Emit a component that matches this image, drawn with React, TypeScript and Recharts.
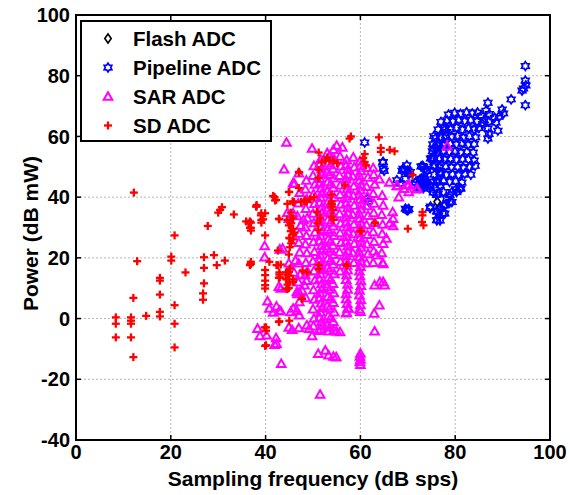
import React from 'react';
import { ScatterChart, Scatter, XAxis, YAxis, CartesianGrid } from 'recharts';

const xTicks = [0, 20, 40, 60, 80, 100];
const yTicks = [-40, -20, 0, 20, 40, 60, 80, 100];
const xDomain = [0, 100];
const yDomain = [-40, 100];
const seriesNames = ['Flash ADC', 'Pipeline ADC', 'SAR ADC', 'SD ADC'];

const flashData = [[76.2, 38.5], [73.3, 43.8], [72.9, 44.6]];

const pipelineData = [
  [94.8, 83.2], [94.8, 78.4], [94.9, 76.8], [94.4, 75.8], [94.1, 75.1], [94.8, 70.3], [91.8, 72.2], [89.9, 68.9], [90.2, 67.6], [89.2, 66.5], [89.0, 61.9],
  [86.9, 71.1], [86.5, 68.5], [87.2, 67.4], [86.1, 65.4], [87.1, 64.8], [86.9, 62.6], [87.1, 60.8], [86.9, 59.3], [85.8, 64.1], [88.3, 66.2], [88.6, 64.6], [85.5, 66.8],
  [78.6, 67.2], [79.9, 67.8], [81.1, 67.4], [82.4, 68.0], [83.6, 67.6], [84.7, 67.9],
  [77.0, 64.8], [78.3, 65.3], [79.5, 64.9], [80.8, 65.5], [82.0, 65.0], [83.3, 65.4], [84.6, 64.9],
  [76.4, 62.3], [77.7, 62.8], [79.0, 62.4], [80.3, 62.9], [81.5, 62.2], [82.8, 62.7], [84.0, 62.3], [85.0, 62.8],
  [75.5, 60.1], [76.8, 59.7], [78.0, 60.3], [79.3, 59.8], [80.5, 60.2], [81.7, 59.6], [83.0, 60.1], [84.3, 59.7],
  [75.3, 57.4], [76.5, 57.8], [77.7, 57.2], [79.0, 57.7], [80.2, 57.3], [81.5, 57.8], [82.7, 57.2], [84.0, 57.5],
  [75.2, 55.1], [76.3, 54.7], [77.5, 55.3], [78.8, 54.8], [80.0, 55.2], [81.2, 54.6], [82.5, 55.0], [83.8, 54.7],
  [75.3, 52.4], [76.6, 52.8], [77.8, 52.3], [79.0, 52.7], [80.3, 52.2], [81.5, 52.6], [82.8, 52.4], [84.0, 52.1],
  [75.5, 50.1], [76.7, 49.7], [78.0, 50.2], [79.2, 49.8], [80.5, 50.0], [81.8, 49.6], [83.0, 49.9], [84.2, 50.3],
  [75.6, 47.4], [76.9, 47.8], [78.1, 47.3], [79.4, 47.6], [80.7, 47.2], [82.0, 47.7], [83.3, 47.4],
  [75.4, 45.2], [76.3, 44.9], [77.6, 45.4], [78.8, 45.0], [80.1, 45.3], [81.4, 44.8],
  [73.1, 50.3], [73.7, 49.4], [72.6, 45.9], [73.6, 45.9], [73.3, 43.0], [74.1, 43.7], [74.6, 42.8], [75.4, 41.5], [76.1, 40.8], [74.8, 36.9], [76.1, 35.3],
  [77.4, 34.7], [77.9, 37.3], [78.9, 38.4], [79.3, 41.7], [80.2, 42.6], [81.2, 42.8], [69.8, 35.8], [69.8, 50.5], [69.3, 49.0], [70.0, 48.7],
  [60.9, 58.0], [64.7, 51.4], [65.0, 48.7], [68.8, 48.7], [70.2, 47.6], [69.5, 46.1], [67.7, 45.6], [68.4, 44.5], [71.1, 44.1], [71.6, 44.8],
  [72.5, 43.1], [72.9, 46.1], [72.8, 50.1], [74.1, 48.7], [74.8, 52.7], [75.5, 52.7], [61.7, 38.6], [70.2, 36.1], [74.7, 36.4], [76.2, 35.3], [76.2, 32.5],
  [76.2, 56.0], [77.5, 57.1], [76.8, 52.7], [76.8, 48.3], [76.1, 45.0], [76.8, 43.9], [77.5, 41.7], [77.6, 37.3], [76.5, 34.0], [76.8, 32.3],
  [64.8, 51.6], [64.8, 49.4], [70.0, 35.7], [69.0, 49.4], [70.5, 48.3], [73.3, 50.0], [74.0, 48.8], [73.3, 46.1], [74.0, 45.0], [74.7, 43.9],
  [76.4, 41.2], [78.2, 39.5], [79.3, 38.4], [76.8, 36.2], [77.8, 34.6], [76.1, 32.4], [81.0, 42.8], [80.3, 41.7], [78.9, 40.6], [61.5, 39.5], [69.5, 36.2],
  [75.9, 59.5], [76.2, 57.1], [75.4, 56.0], [75.1, 52.9], [75.7, 50.5], [77.8, 62.1], [78.2, 61.5],
];

const sarData = [
  [44.4, 58.0], [49.8, 56.0], [43.9, 49.2], [45.8, 44.6], [46.1, 44.4], [44.6, 34.9], [44.9, 32.9], [45.8, 34.7], [46.7, 33.8], [47.4, 30.7], [48.4, 30.1], [48.0, 32.5],
  [39.8, 23.9], [39.8, 20.2], [43.0, 22.8], [43.6, 23.1], [44.9, 18.2], [46.3, 19.1], [47.0, 18.2], [46.0, 15.2], [47.3, 14.5], [48.4, 14.3], [48.2, 11.0],
  [46.7, 8.1], [47.1, 8.6], [42.8, 10.5], [43.2, 9.9], [46.6, 8.8], [47.7, 9.2],
  [40.4, 5.7], [40.8, 3.3], [41.6, 2.0], [42.3, 4.0], [42.9, 2.6], [45.3, 2.2], [46.6, 2.6], [47.1, 1.1], [45.8, 3.3], [43.2, 2.4],
  [44.9, -2.9], [45.6, -3.7], [47.0, -3.1], [48.7, -2.2], [38.3, -3.3], [38.8, -5.7], [40.2, -5.5], [42.2, -6.4], [42.3, -8.3], [41.9, -8.6], [43.3, -14.9],
  [49.8, -5.7], [49.2, -3.3], [51.2, -4.0], [53.3, -4.2], [55.0, -4.2], [55.7, -4.4],
  [51.1, -11.6], [52.6, -10.5], [53.3, -12.1], [54.3, -12.5], [54.9, -12.7], [51.5, -25.0],
  [60.0, -11.5], [59.9, -12.5], [60.0, -13.5], [59.9, -14.3], [60.0, -15.2],
  [62.7, 18.4], [64.7, 18.4], [64.1, 12.1], [64.8, 12.1], [65.1, 11.0], [63.0, 11.0], [64.0, 4.4], [62.9, 1.7], [63.0, -4.2], [57.1, 2.0], [57.5, 3.3],
  [62.7, 49.6], [64.0, 45.9], [66.1, 44.8], [67.8, 43.7], [69.9, 43.9], [70.2, 41.7], [72.0, 42.8], [68.1, 40.0], [66.8, 35.1], [66.9, 32.9], [66.2, 31.4],
  [66.9, 30.5], [65.5, 26.4], [63.4, 20.9], [64.8, 18.0], [70.2, 44.1], [71.9, 42.6], [67.7, 43.7], [69.2, 42.8], [78.3, 56.8],
  [55.0, 57.0], [56.2, 56.4], [60.0, 2.3], [57.0, 1.8],
  [48.6, 45.5], [48.4, 42.6], [48.7, 39.4], [48.5, 36.2], [48.8, 33.1], [48.6, 27.3], [48.4, 24.5], [48.7, 21.6], [48.5, 18.4], [48.8, 15.6], [48.6, 12.5], [48.5, 6.8],
  [50.2, 50.3], [50.0, 47.1], [50.4, 44.2], [50.1, 41.0], [50.3, 37.8], [50.0, 34.6], [50.2, 31.5], [50.4, 28.4], [50.1, 25.2], [50.3, 22.0], [50.0, 18.9],
  [50.2, 15.7], [50.4, 12.6], [50.1, 9.4], [50.3, 6.3], [50.0, 3.1], [50.2, 0.0], [50.1, -2.5],
  [51.6, 52.4], [51.8, 49.2], [51.5, 46.1], [51.7, 42.9], [51.6, 39.8], [51.8, 36.6], [51.5, 33.5], [51.7, 30.3], [51.6, 27.2], [51.8, 24.0], [51.5, 20.9],
  [51.7, 17.7], [51.6, 14.6], [51.8, 11.4], [51.5, 8.3], [51.7, 5.1], [51.6, 2.0], [51.8, -1.1], [51.6, -3.5],
  [51.4, 50.8], [51.9, 47.6], [51.4, 44.5], [51.9, 41.3], [51.4, 38.2], [51.9, 35.0], [51.4, 31.9], [51.9, 28.7], [51.4, 25.6], [51.9, 22.4], [51.4, 19.3],
  [51.9, 16.1], [51.4, 13.0], [51.9, 9.8], [51.4, 6.7], [51.9, 3.5], [51.4, 0.4], [51.9, -2.3],
  [53.0, 54.5], [53.2, 51.3], [52.9, 48.2], [53.1, 45.0], [53.0, 41.9], [53.2, 38.7], [52.9, 35.6], [53.1, 32.4], [53.0, 29.3], [53.2, 26.1], [52.9, 23.0],
  [53.1, 19.8], [53.0, 16.7], [53.2, 13.5], [52.9, 10.4], [53.1, 7.2], [53.0, 4.1], [53.2, 0.9], [53.0, -2.2],
  [53.6, 53.8], [53.7, 50.6], [53.5, 47.4], [53.7, 44.3], [53.5, 41.1], [53.7, 38.0], [53.5, 34.8], [53.7, 31.7], [53.5, 28.5], [53.7, 25.4], [53.5, 22.2],
  [53.7, 19.1], [53.5, 15.9], [53.7, 12.8], [53.5, 9.6], [53.7, 6.5], [53.5, 3.3], [53.7, 0.2], [53.5, -2.9],
  [54.3, 55.6], [54.5, 52.5], [54.2, 49.3], [54.4, 46.2], [54.3, 43.0], [54.5, 39.9], [54.2, 36.7], [54.4, 33.6], [54.3, 30.4], [54.5, 27.3], [54.2, 24.1],
  [54.4, 21.0], [54.3, 17.8], [54.5, 14.7], [54.2, 11.5], [54.4, 8.4], [54.3, 5.2], [54.5, 2.1], [54.3, -1.0], [54.4, -3.8],
  [55.7, 53.4], [55.9, 50.2], [55.6, 47.1], [55.8, 43.9], [55.7, 40.8], [55.9, 37.6], [55.6, 34.5], [55.8, 31.3], [55.7, 28.2], [55.9, 25.0], [55.6, 21.9],
  [55.8, 18.7], [55.7, 15.6],
  [57.1, 52.2], [57.3, 49.0], [57.0, 45.9], [57.2, 42.7], [57.1, 39.6], [57.3, 36.4], [57.0, 33.3], [57.2, 30.1], [57.1, 27.0], [57.3, 23.8], [57.0, 20.7],
  [57.2, 17.5], [57.1, 14.4], [57.3, 11.2], [57.0, 8.1], [57.2, 4.9],
  [57.0, 50.6], [57.3, 47.4], [57.0, 44.3], [57.3, 41.1], [57.0, 38.0], [57.3, 34.8], [57.0, 31.7], [57.3, 28.5], [57.0, 25.4], [57.3, 22.2], [57.0, 19.1],
  [57.3, 15.9], [57.0, 12.8], [57.3, 9.6], [57.0, 6.5], [57.3, 3.3],
  [58.5, 53.1], [58.7, 49.9], [58.4, 46.8], [58.6, 43.6], [58.5, 40.5], [58.7, 37.3], [58.4, 34.2], [58.6, 31.0], [58.5, 27.9], [58.7, 24.7], [58.4, 21.6], [58.6, 18.4],
  [59.9, 51.8], [60.1, 48.6], [59.8, 45.5], [60.0, 42.3], [59.9, 39.2], [60.1, 36.0], [59.8, 32.9], [60.0, 29.7], [59.9, 26.6], [60.1, 23.4], [59.8, 20.3],
  [60.0, 17.1], [59.9, 14.0], [60.1, 10.8], [59.8, 7.7], [60.0, 4.5],
  [60.0, 50.2], [59.8, 47.0], [60.1, 43.9], [59.8, 40.7], [60.1, 37.6], [59.8, 34.4], [60.1, 31.3], [59.8, 28.1], [60.1, 25.0], [59.8, 21.8], [60.1, 18.7],
  [59.8, 15.6], [60.1, 12.4], [59.8, 9.3], [60.1, 6.1], [59.8, 3.0],
  [61.4, 49.7], [61.6, 46.5], [61.3, 43.4], [61.5, 40.2], [61.4, 37.1], [61.6, 33.9], [61.3, 30.8], [61.5, 27.6], [61.4, 24.5], [61.6, 21.3], [61.3, 18.2],
  [62.8, 47.4], [63.0, 44.2], [62.7, 41.1], [62.9, 37.9], [62.8, 34.8], [63.0, 31.6], [62.7, 28.5], [62.9, 25.3], [62.8, 22.2],
  [64.6, 40.5], [64.8, 37.3], [64.5, 34.2], [64.7, 31.0], [64.6, 27.9], [64.8, 24.7], [64.5, 21.6],
  [47.0, 47.9], [47.2, 41.5], [46.9, 38.0], [47.1, 28.0], [47.0, 25.0], [47.2, 21.8], [46.9, 12.0], [47.1, 5.5],
];

const sdData = [
  [12.2, 41.5], [12.9, 18.9], [12.1, 6.8], [8.4, 0.4], [8.4, -1.7], [8.4, -6.2], [11.6, 0.4], [11.6, -0.7], [11.6, -1.7], [11.6, -6.2], [12.1, -12.7], [14.8, 0.9],
  [17.7, 13.4], [17.7, 12.5], [17.7, 7.9], [17.7, 2.2], [17.7, 0.7], [20.8, 27.4], [20.8, 4.4], [20.8, -1.7], [20.8, -9.5], [20.1, 20.4], [20.1, 19.1], [23.1, 15.2],
  [27.8, 30.5], [27.0, 20.2], [27.0, 16.7], [27.0, 11.6], [26.8, 8.3], [26.8, 6.2], [29.1, 20.9], [29.7, 17.6], [31.4, 19.1], [30.0, 34.9], [30.4, 35.8], [30.8, 36.7], [33.3, 34.3],
  [35.9, 32.0], [36.4, 31.4], [36.9, 29.0], [38.1, 36.9], [39.0, 34.0], [39.1, 32.5], [39.9, 34.7], [36.9, 18.7], [36.9, 18.0], [36.7, 17.6],
  [41.6, 40.4], [42.2, 39.1], [39.9, 27.4], [39.9, 16.0], [39.9, 14.3], [39.9, 12.5], [39.9, 11.0], [39.9, 9.9], [40.1, -2.9], [40.1, -4.0], [40.1, -8.8],
  [42.8, -1.1], [42.8, 32.9], [45.0, -0.7], [44.9, 41.7], [46.0, 38.4], [47.0, 48.3], [47.0, 43.0], [48.1, 38.6], [48.7, 38.6],
  [44.9, 30.7], [45.8, 29.6], [45.8, 27.7], [45.0, 26.6], [45.8, 26.1], [44.9, 21.1], [45.1, 16.5], [44.7, 15.2], [44.6, 14.3], [44.4, 12.9], [44.6, 11.2], [44.4, 9.9],
  [42.9, 14.5], [42.8, 13.4], [45.8, 12.9], [45.8, 12.1], [47.7, 6.4], [48.8, 15.2], [40.8, 18.7], [42.6, 17.6],
  [51.2, 54.7], [51.8, 51.6], [52.6, 52.0], [53.5, 52.0], [54.3, 52.0], [55.1, 51.2], [53.0, 53.1],
  [47.1, 48.1], [51.2, 49.0], [51.1, 46.3], [45.0, 41.7], [45.7, 38.6], [44.6, 37.8], [41.9, 40.0], [42.0, 38.9], [38.0, 36.9], [39.1, 34.7], [39.5, 32.7], [39.1, 31.6],
  [36.9, 31.6], [36.9, 29.9], [45.8, 38.4], [47.5, 38.4], [48.4, 38.9], [49.4, 39.3], [50.2, 40.0], [50.8, 35.1], [51.5, 33.1], [50.9, 31.4], [51.1, 29.2],
  [45.3, 34.9], [45.8, 33.1], [44.6, 32.5], [45.4, 31.4], [45.3, 28.8], [46.1, 28.3], [45.1, 26.4], [45.4, 24.8], [45.1, 23.5], [42.9, 32.7], [42.6, 22.4],
  [54.0, 37.8], [54.2, 35.8], [53.9, 33.6], [54.3, 32.5], [56.7, 43.9], [57.7, 59.3],
  [42.9, 15.2], [43.0, 13.6], [44.3, 15.2], [44.3, 13.2], [44.9, 15.4], [45.0, 14.1], [45.0, 11.9], [44.9, 10.1], [44.6, 9.7], [42.3, 17.6], [43.2, 17.8],
  [47.8, 15.8], [47.7, 6.6], [51.2, 17.6], [51.2, 16.3], [57.1, 17.4], [42.9, -0.9], [39.8, -2.9], [39.9, -9.0],
  [60.9, 54.2], [60.9, 51.6], [61.2, 50.5], [60.6, 52.9], [63.9, 59.7], [64.3, 56.2], [64.3, 54.9], [66.2, 55.6], [67.2, 55.1], [58.0, 60.0], [63.0, 31.4],
  [59.9, 28.8], [71.0, 47.3], [73.1, 35.1], [73.1, 34.0], [73.0, 31.8], [73.3, 30.7], [70.0, 29.6], [63.1, 31.6], [60.2, 28.8], [38.1, 37.4], [36.7, 32.0],
  [36.7, 29.9], [36.7, 17.8], [57.1, 17.8], [53.9, 40.8], [53.9, 38.6], [53.9, 36.9],
];

const toPts = (a: number[][]) => a.map(([x, y]) => ({ x, y }));

// layout
const CHART_W = 570;
const CHART_H = 495;
const MARGIN = { top: 15, right: 20, bottom: 0, left: 0 };
const YAXIS_W = 76;
const XAXIS_H = 55;
const PLOT_X = MARGIN.left + YAXIS_W;
const PLOT_Y = MARGIN.top;
const PLOT_W = CHART_W - MARGIN.left - MARGIN.right - YAXIS_W;
const PLOT_H = CHART_H - MARGIN.top - MARGIN.bottom - XAXIS_H;
const TICK_LEN = 5;

const FONT = '"Liberation Sans", Arial, Helvetica, sans-serif';

const Diamond = ({ cx, cy }: any) => (
  <polygon points={`${cx},${cy - 4.5} ${cx + 3.2},${cy} ${cx},${cy + 4.5} ${cx - 3.2},${cy}`} fill="none" stroke="#000" strokeWidth={1.6} />
);

const Hexagram = ({ cx, cy }: any) => {
  const pts: string[] = [];
  for (let i = 0; i < 12; i++) {
    const r = i % 2 === 0 ? 4.4 : 2.7;
    const a = (Math.PI / 6) * i - Math.PI / 2;
    pts.push(`${cx + r * Math.cos(a)},${cy + r * Math.sin(a)}`);
  }
  return <polygon points={pts.join(' ')} fill="none" stroke="#0000ff" strokeWidth={1.7} />;
};

const Triangle = ({ cx, cy }: any) => (
  <polygon points={`${cx},${cy - 4.3} ${cx + 4.3},${cy + 3.3} ${cx - 4.3},${cy + 3.3}`} fill="none" stroke="#ff00ff" strokeWidth={2} />
);

const Plus = ({ cx, cy }: any) => (
  <g stroke="#ff0000" strokeWidth={2.3}>
    <line x1={cx - 4} y1={cy} x2={cx + 4} y2={cy} />
    <line x1={cx} y1={cy - 4} x2={cx} y2={cy + 4} />
  </g>
);

const BottomTick = ({ x, y, payload }: any) => (
  <text x={x} y={y} dy="0.71em" textAnchor="middle" fontFamily={FONT} fontWeight="bold" fontSize={20} fill="#000">{payload.value}</text>
);

const LeftTick = ({ x, y, payload }: any) => (
  <text x={x} y={y} dy="0.355em" textAnchor="end" fontFamily={FONT} fontWeight="bold" fontSize={20} fill="#000">{payload.value}</text>
);

const YLabel = (props: any) => {
  const vb = props.viewBox || { x: 0, y: PLOT_Y, width: YAXIS_W, height: PLOT_H };
  const cx = vb.x + 31;
  const cy = vb.y + vb.height / 2 + 6;
  return (
    <text x={cx} y={cy} transform={`rotate(-90 ${cx} ${cy})`} dy="0.355em" textAnchor="middle" fontFamily={FONT} fontWeight="bold" fontSize={21} fill="#000">Power (dB mW)</text>
  );
};

const XLabel = (props: any) => {
  const vb = props.viewBox || { x: PLOT_X, y: PLOT_Y + PLOT_H, width: PLOT_W, height: XAXIS_H };
  const cx = vb.x + vb.width / 2;
  return (
    <text x={cx} y={vb.y + 46} textAnchor="middle" fontFamily={FONT} fontWeight="bold" fontSize={21} fill="#000">Sampling frequency (dB sps)</text>
  );
};

// MATLAB-style box: frame plus inward tick marks on all four sides
const BoxFrame = () => {
  const fx = (v: number) => PLOT_X + ((v - xDomain[0]) / (xDomain[1] - xDomain[0])) * PLOT_W;
  const fy = (v: number) => PLOT_Y + PLOT_H - ((v - yDomain[0]) / (yDomain[1] - yDomain[0])) * PLOT_H;
  const bottom = PLOT_Y + PLOT_H;
  const right = PLOT_X + PLOT_W;
  return (
    <svg width={CHART_W} height={CHART_H} style={{ position: 'absolute', left: 0, top: 0, pointerEvents: 'none' }}>
      <rect x={PLOT_X} y={PLOT_Y} width={PLOT_W} height={PLOT_H} fill="none" stroke="#000" strokeWidth={2} />
      {xTicks.map((v) => (
        <g key={`x${v}`} stroke="#000" strokeWidth={1.5}>
          <line x1={fx(v)} x2={fx(v)} y1={bottom} y2={bottom - TICK_LEN} />
          <line x1={fx(v)} x2={fx(v)} y1={PLOT_Y} y2={PLOT_Y + TICK_LEN} />
        </g>
      ))}
      {yTicks.map((v) => (
        <g key={`y${v}`} stroke="#000" strokeWidth={1.5}>
          <line x1={PLOT_X} x2={PLOT_X + TICK_LEN} y1={fy(v)} y2={fy(v)} />
          <line x1={right} x2={right - TICK_LEN} y1={fy(v)} y2={fy(v)} />
        </g>
      ))}
    </svg>
  );
};

const legendMarkers = [Diamond, Hexagram, Triangle, Plus];

const LegendBox = () => (
  <svg width={200} height={130} style={{ position: 'absolute', left: 80, top: 20 }}>
    <rect x={1} y={1} width={190} height={120} fill="#fff" stroke="#000" strokeWidth={2} />
    {seriesNames.map((name, i) => {
      const cy = 18.5 + i * 29;
      const M = legendMarkers[i];
      return (
        <g key={name}>
          <M cx={28} cy={cy} />
          <text x={53} y={cy + 7.5} fontFamily={FONT} fontWeight="bold" fontSize={20.5} fill="#000">{name}</text>
        </g>
      );
    })}
  </svg>
);

export default function App() {
  return (
    <div style={{ position: 'absolute', left: 0, top: 0, width: CHART_W, height: CHART_H }}>
      <ScatterChart width={CHART_W} height={CHART_H} margin={MARGIN}>
        <CartesianGrid stroke="#b5b5b5" strokeDasharray="2 2" />
        <XAxis type="number" dataKey="x" domain={xDomain} ticks={xTicks} height={XAXIS_H} tickSize={0} tickMargin={5}
          tick={<BottomTick />} axisLine={{ stroke: '#000', strokeWidth: 2 }} tickLine={false} label={XLabel} />
        <YAxis type="number" dataKey="y" domain={yDomain} ticks={yTicks} width={YAXIS_W} tickSize={0} tickMargin={6}
          tick={<LeftTick />} axisLine={{ stroke: '#000', strokeWidth: 2 }} tickLine={false} label={YLabel} />
        <Scatter name={seriesNames[0]} data={toPts(flashData)} isAnimationActive={false} shape={(p: any) => <Diamond cx={p.cx} cy={p.cy} />} />
        <Scatter name={seriesNames[1]} data={toPts(pipelineData)} isAnimationActive={false} shape={(p: any) => <Hexagram cx={p.cx} cy={p.cy} />} />
        <Scatter name={seriesNames[2]} data={toPts(sarData)} isAnimationActive={false} shape={(p: any) => <Triangle cx={p.cx} cy={p.cy} />} />
        <Scatter name={seriesNames[3]} data={toPts(sdData)} isAnimationActive={false} shape={(p: any) => <Plus cx={p.cx} cy={p.cy} />} />
      </ScatterChart>
      <BoxFrame />
      <LegendBox />
    </div>
  );
}
